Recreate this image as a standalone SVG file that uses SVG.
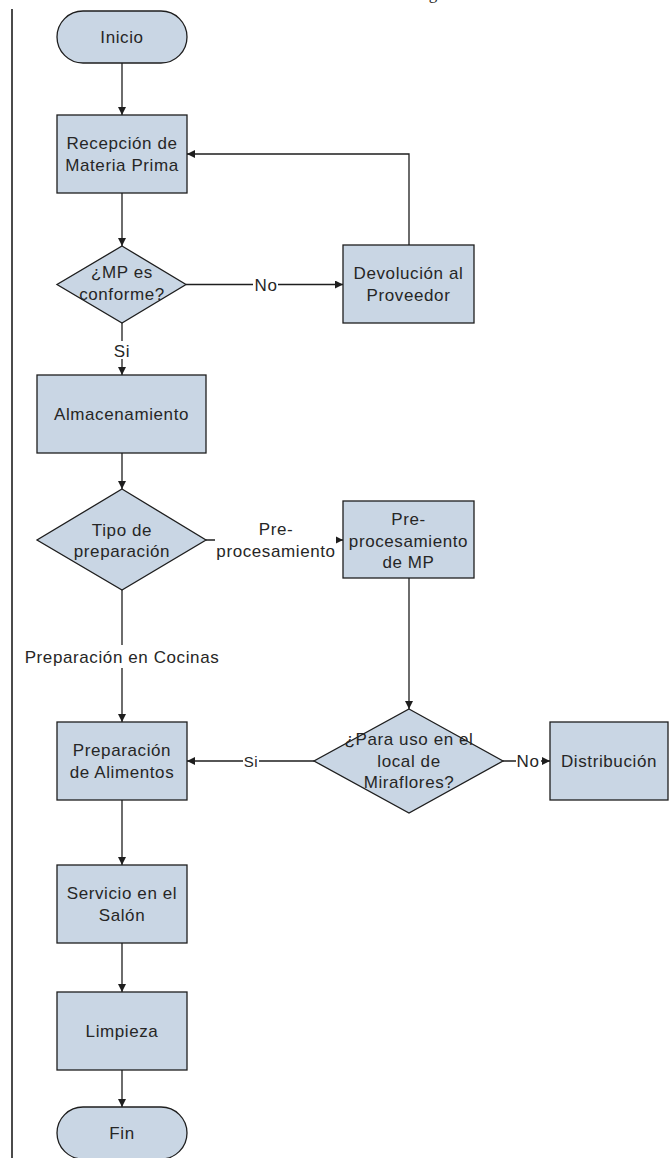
<svg xmlns="http://www.w3.org/2000/svg" width="670" height="1158" viewBox="0 0 670 1158">
  <style>
    .shape { fill: #c9d6e4; stroke: #1e1e1e; stroke-width: 1.3; }
    .lbl { font-family: "Liberation Sans", Arial, sans-serif; font-size: 17px; letter-spacing: 0.6px; fill: #262626; text-anchor: middle; }
    .edge { fill: none; stroke: #1e1e1e; stroke-width: 1.3; }
    .gap { fill: #ffffff; stroke: none; }
  </style>
  <defs>
    <marker id="arrow" viewBox="0 0 10 10" refX="10" refY="5" markerWidth="9" markerHeight="8" markerUnits="userSpaceOnUse" orient="auto">
      <path d="M0,0 L10,5 L0,10 Z" fill="#1e1e1e"/>
    </marker>
  </defs>

  <rect width="670" height="1158" fill="#ffffff"/>

  <!-- caption fragment at the top edge -->
  <text x="433" y="-1" font-family="Liberation Serif, serif" font-size="17" fill="#262626" text-anchor="middle">g</text>

  <!-- left margin rule -->
  <line x1="12" y1="9" x2="12" y2="1158" stroke="#1e1e1e" stroke-width="1.6"/>

  <!-- connectors -->
  <g id="connectors">
    <line class="edge" x1="122" y1="63" x2="122" y2="115" marker-end="url(#arrow)"/>
    <line class="edge" x1="122" y1="193" x2="122" y2="246" marker-end="url(#arrow)"/>
    <line class="edge" x1="186" y1="284.5" x2="343" y2="284.5" marker-end="url(#arrow)"/>
    <polyline class="edge" points="409,245 409,154 187,154" marker-end="url(#arrow)"/>
    <line class="edge" x1="122" y1="323" x2="122" y2="375" marker-end="url(#arrow)"/>
    <line class="edge" x1="122" y1="453" x2="122" y2="489" marker-end="url(#arrow)"/>
    <line class="edge" x1="206" y1="540" x2="343" y2="540" marker-end="url(#arrow)"/>
    <line class="edge" x1="122" y1="590" x2="122" y2="722" marker-end="url(#arrow)"/>
    <line class="edge" x1="409" y1="578" x2="409" y2="709" marker-end="url(#arrow)"/>
    <line class="edge" x1="314" y1="761" x2="187" y2="761" marker-end="url(#arrow)"/>
    <line class="edge" x1="503" y1="761" x2="550" y2="761" marker-end="url(#arrow)"/>
    <line class="edge" x1="122" y1="800" x2="122" y2="865" marker-end="url(#arrow)"/>
    <line class="edge" x1="122" y1="943" x2="122" y2="992" marker-end="url(#arrow)"/>
    <line class="edge" x1="122" y1="1070" x2="122" y2="1107" marker-end="url(#arrow)"/>

    <!-- connector labels -->
    <rect class="gap" x="253" y="276" width="25" height="17"/>
    <text class="lbl" x="266" y="290.5">No</text>
    <rect class="gap" x="113" y="341" width="18" height="18"/>
    <text class="lbl" x="122" y="357">Si</text>
    <rect class="gap" x="215" y="518" width="121" height="44"/>
    <text class="lbl" x="276" y="535">Pre-</text>
    <text class="lbl" x="276" y="557">procesamiento</text>
    <rect class="gap" x="25" y="645" width="195" height="23"/>
    <text class="lbl" x="122" y="663">Preparación en Cocinas</text>
    <rect class="gap" x="243" y="753" width="16" height="16"/>
    <text class="lbl" x="251" y="767" style="font-size:15px">Si</text>
    <rect class="gap" x="516" y="753" width="25" height="16"/>
    <text class="lbl" x="528" y="767">No</text>
  </g>

  <g id="inicio">
    <rect class="shape" x="57" y="11" width="130" height="52" rx="26" ry="26"/>
    <text class="lbl" x="122" y="43">Inicio</text>
  </g>

  <g id="recepcion">
    <rect class="shape" x="57" y="115" width="130" height="78"/>
    <text class="lbl" x="122" y="149">Recepción de</text>
    <text class="lbl" x="122" y="171">Materia Prima</text>
  </g>

  <g id="mp-conforme">
    <polygon class="shape" points="122,246 186,284.5 122,323 57,284.5"/>
    <text class="lbl" x="122" y="278">¿MP es</text>
    <text class="lbl" x="122" y="300">conforme?</text>
  </g>

  <g id="devolucion">
    <rect class="shape" x="343" y="245" width="131" height="78"/>
    <text class="lbl" x="408.5" y="279">Devolución al</text>
    <text class="lbl" x="408.5" y="301">Proveedor</text>
  </g>

  <g id="almacenamiento">
    <rect class="shape" x="37" y="375" width="169" height="78"/>
    <text class="lbl" x="121.5" y="420">Almacenamiento</text>
  </g>

  <g id="tipo-preparacion">
    <polygon class="shape" points="122,489 206,540 122,590 37,540"/>
    <text class="lbl" x="122" y="536">Tipo de</text>
    <text class="lbl" x="122" y="557">preparación</text>
  </g>

  <g id="preprocesamiento">
    <rect class="shape" x="343" y="501" width="131" height="77"/>
    <text class="lbl" x="408.5" y="525">Pre-</text>
    <text class="lbl" x="408.5" y="547">procesamiento</text>
    <text class="lbl" x="408.5" y="568">de MP</text>
  </g>

  <g id="uso-miraflores">
    <polygon class="shape" points="409,709 503,761 409,813 314,761"/>
    <text class="lbl" x="409" y="745">¿Para uso en el</text>
    <text class="lbl" x="409" y="767">local de</text>
    <text class="lbl" x="409" y="788">Miraflores?</text>
  </g>

  <g id="distribucion">
    <rect class="shape" x="550" y="722" width="118" height="78"/>
    <text class="lbl" x="609" y="767">Distribución</text>
  </g>

  <g id="preparacion-alimentos">
    <rect class="shape" x="57" y="722" width="130" height="78"/>
    <text class="lbl" x="122" y="756">Preparación</text>
    <text class="lbl" x="122" y="778">de Alimentos</text>
  </g>

  <g id="servicio">
    <rect class="shape" x="57" y="865" width="130" height="78"/>
    <text class="lbl" x="122" y="899">Servicio en el</text>
    <text class="lbl" x="122" y="921">Salón</text>
  </g>

  <g id="limpieza">
    <rect class="shape" x="57" y="992" width="130" height="78"/>
    <text class="lbl" x="122" y="1037">Limpieza</text>
  </g>

  <g id="fin">
    <rect class="shape" x="57" y="1107" width="130" height="52" rx="26" ry="26"/>
    <text class="lbl" x="122" y="1139">Fin</text>
  </g>
</svg>
